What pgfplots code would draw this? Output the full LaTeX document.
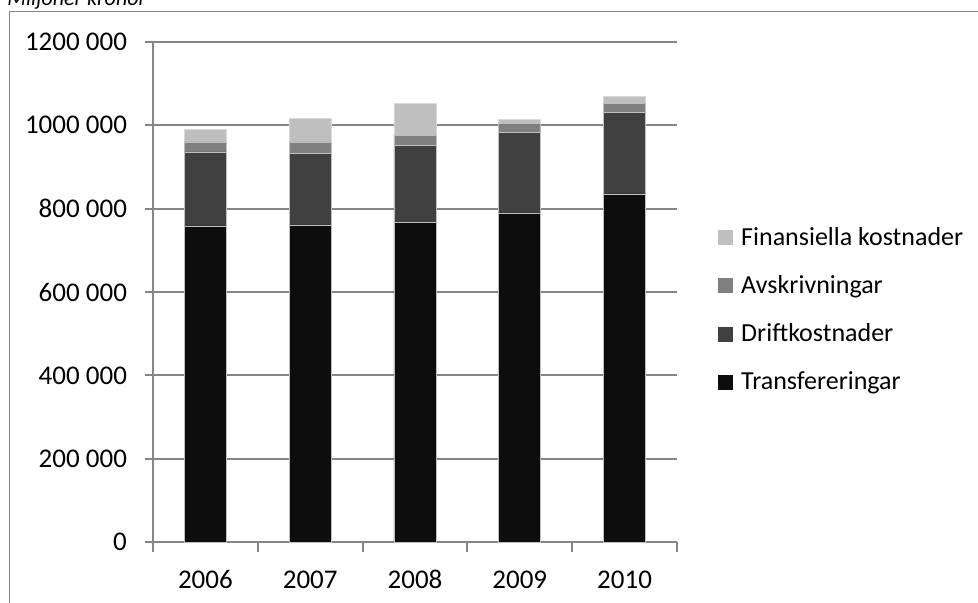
\documentclass[border=0pt]{standalone}
\usepackage{fontspec}
\setmainfont{Carlito}
\usepackage{pgfplots}
\pgfplotsset{compat=1.18}

\definecolor{transf}{HTML}{0D0D0D}
\definecolor{drift}{HTML}{404040}
\definecolor{avskr}{HTML}{808080}
\definecolor{finans}{HTML}{BFBFBF}
\definecolor{axgray}{HTML}{868686}

\pgfplotsset{
  sq/.style={legend image code/.code={%
    \path[draw=none, fill=none] (0pt,0pt) -- (10.5pt,0pt);
    \fill[##1, draw=none] (0pt,-3.75pt) rectangle (7.5pt,3.75pt);}},
}

\begin{document}
\begin{tikzpicture}
% frame of the chart area (cut off at the page edge)
\draw[axgray, line width=0.5pt] (4.5pt,-310pt) -- (4.5pt,-6pt) -- (500pt,-6pt);
\node[anchor=base west, inner sep=0pt, font=\fontsize{11}{13}\selectfont\itshape] at (3.5pt,-3pt) {Miljoner kronor};

\begin{axis}[
    at={(76.5pt,-271pt)}, anchor=south west,
    scale only axis, width=262pt, height=250pt,
    ybar stacked, bar width=21pt,
    xmin=-0.5, xmax=4.5, ymin=0, ymax=1200000,
    scaled y ticks=false,
    xtick={0,1,2,3,4},
    xticklabels={2006,2007,2008,2009,2010},
    minor xtick={-0.5,0.5,1.5,2.5,3.5,4.5},
    major x tick style={draw=none},
    ytick={0,200000,400000,600000,800000,1000000,1200000},
    yticklabels={0,200 000,400 000,600 000,800 000,1000 000,1200 000},
    axis x line=bottom, axis y line=left,
    axis line style={-, axgray, line width=1pt},
    tick style={axgray, line width=1pt},
    tick align=outside,
    major tick length=4pt, minor tick length=5pt,
    ymajorgrids, major grid style={axgray, line width=1pt},
    ticklabel style={font=\fontsize{13.5}{15}\selectfont, text=black},
    yticklabel style={xshift=-5.5pt},
    xticklabel style={yshift=-6pt, text height=9.5pt, text depth=0pt},
    reverse legend,
    legend cell align=left,
    legend style={draw=none, fill=none, at={(1.0665,0.642)}, anchor=north west,
      font=\fontsize{13}{15}\selectfont, row sep=11.5pt,
      nodes={inner sep=1pt}},
]
\addplot[fill=transf, draw=gray!50, line width=0.3pt, sq] coordinates {
    (0,758500) (1,760900) (2,767400) (3,789700) (4,835200)};
\addlegendentry{Transfereringar}
\addplot[fill=drift, draw=gray!50, line width=0.3pt, sq] coordinates {
    (0,177500) (1,172600) (2,184600) (3,194200) (4,196700)};
\addlegendentry{Driftkostnader}
\addplot[fill=avskr, draw=gray!50, line width=0.3pt, sq] coordinates {
    (0,24000) (1,26500) (2,24000) (3,21600) (4,21500)};
\addlegendentry{Avskrivningar}
\addplot[fill=finans, draw=gray!30, line width=0.3pt, sq] coordinates {
    (0,30400) (1,56800) (2,77500) (3,8100) (4,16100)};
\addlegendentry{Finansiella kostnader}
\end{axis}

\pgfresetboundingbox
\useasboundingbox (0pt,0pt) rectangle (489pt,-301.5pt);
\end{tikzpicture}
\end{document}
